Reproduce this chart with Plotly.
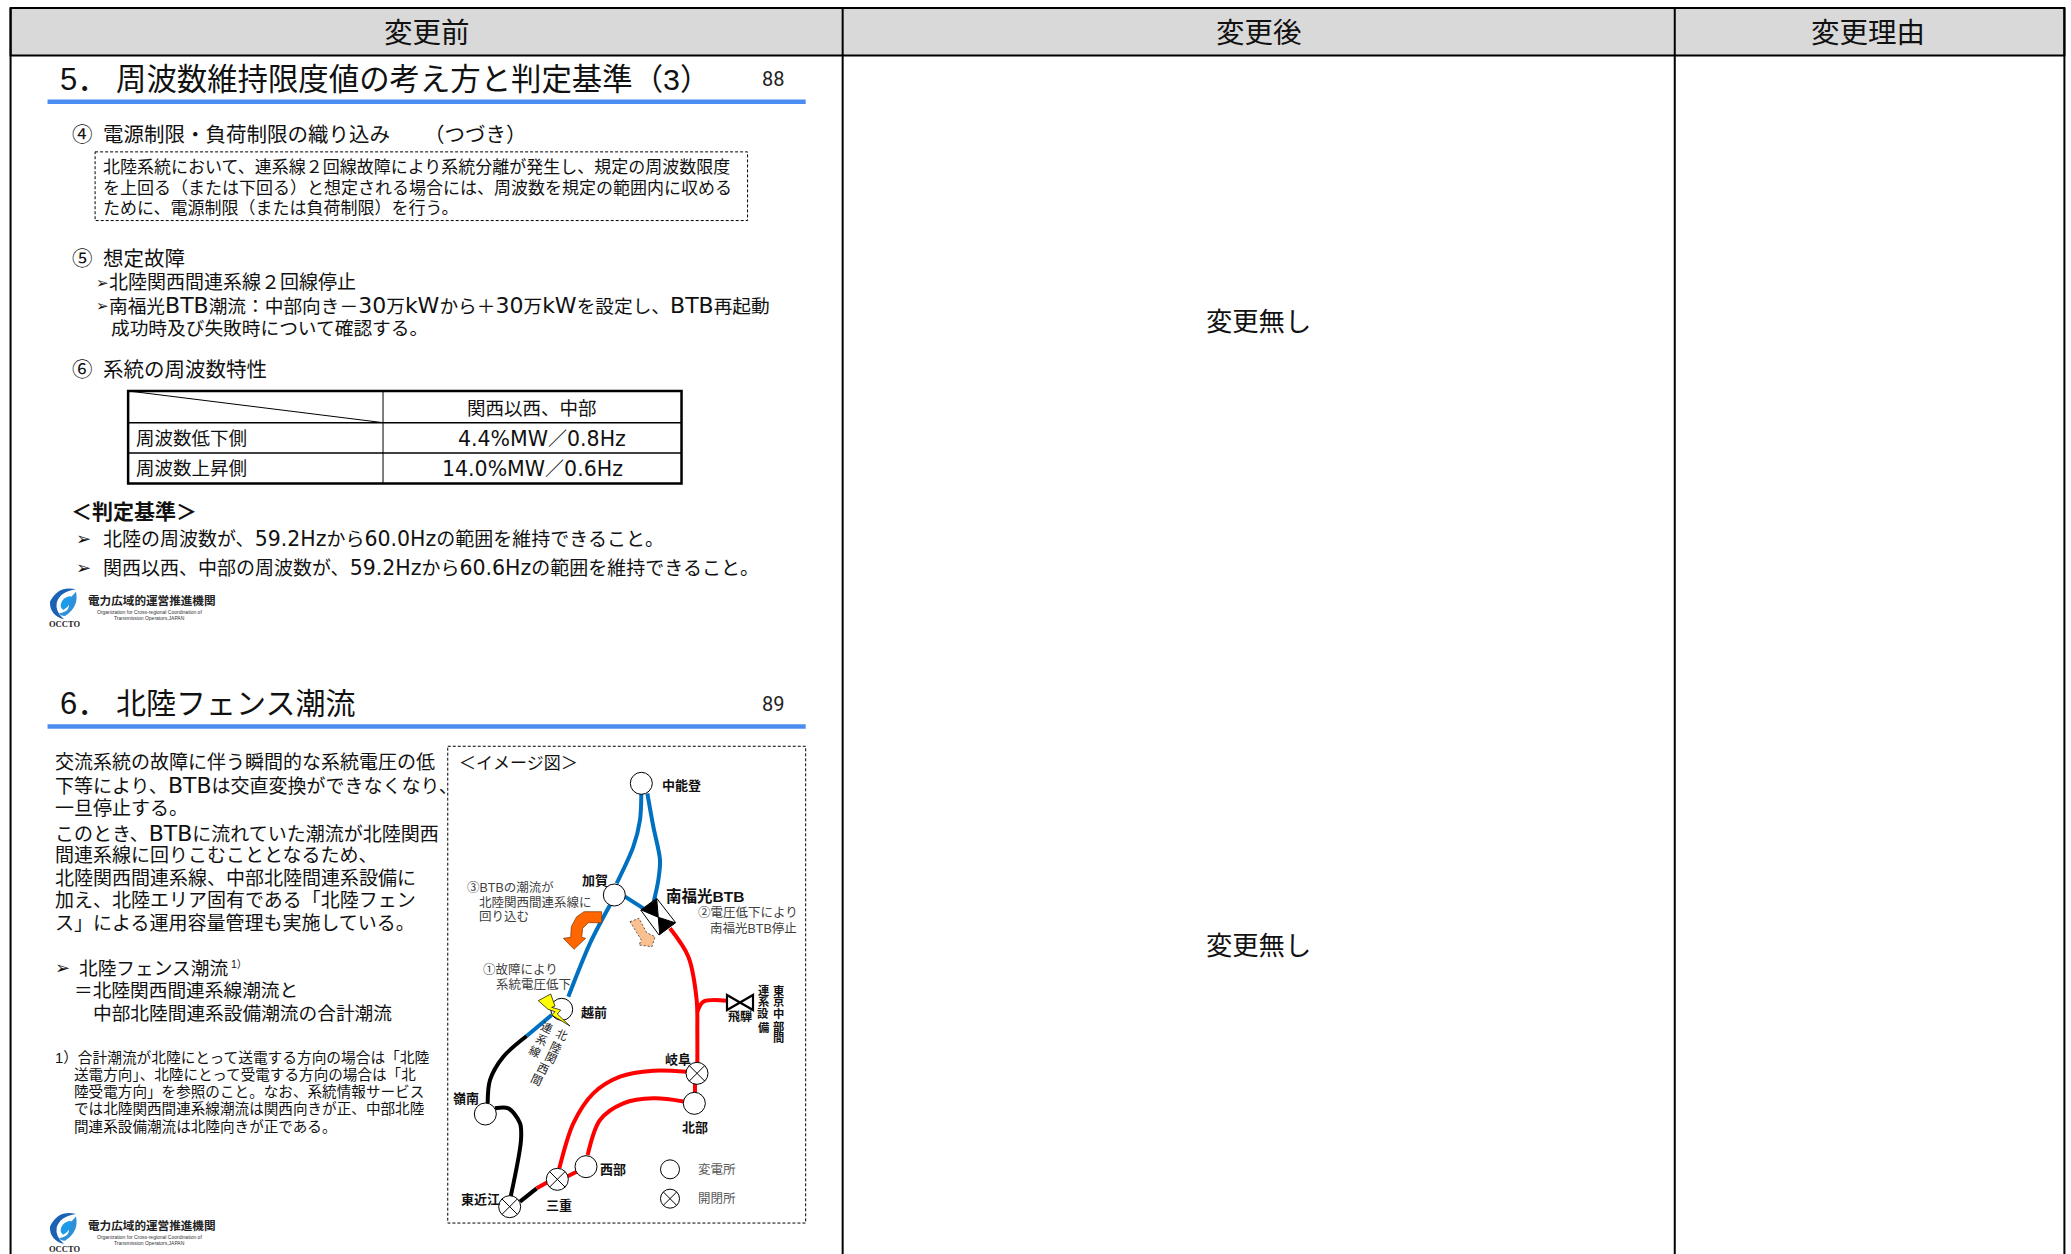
import plotly.graph_objects as go

W, H = 2071, 1254
K = 2071 / 1568
JP = "Liberation Sans, Noto Sans CJK JP, DejaVu Sans, sans-serif"
INK = "#111111"
GREY = "#404040"
BLUE = "#0070c0"
RED = "#ff0000"
BLACK = "#000000"


def z4(x, y):
    return (440 + x / 3, 740 + y / 3)


def z5(x, y):
    return (440 + x / 3, 1000 + y / 3)


def wide(text, size):
    """Latin runs of the reference are set much wider than the Japanese."""
    return f'<span style="font-family:DejaVu Sans;font-size:{size}px">{text}</span>'


# ---- page text: x, y (in the reduced 1568 wide layout), text, size, anchor, bold
header_text = [
    (323, 25, "変更前", 28.5, "center", False),
    (953, 25, "変更後", 28.5, "center", False),
    (1414, 25, "変更理由", 28.5, "center", False),
    (953, 244, "変更無し", 26.3, "center", False),
    (953, 716, "変更無し", 26.3, "center", False),
]
slide1_text = [
    (45, 60, "5．", 31, "left", False),
    (87, 60, "周波数維持限度値の考え方と判定基準（3）", 30.4, "left", False),
    (54, 102, "④", 20.5, "left", False),
    (77, 102, "電源制限・負荷制限の織り込み", 20.5, "left", False),
    (320, 102, "（つづき）", 20.5, "left", False),
    (77.5, 127, "北陸系統において、連系線２回線故障により系統分離が発生し、規定の周波数限度", 17, "left", False),
    (77.5, 143, "を上回る（または下回る）と想定される場合には、周波数を規定の範囲内に収める", 17, "left", False),
    (77.5, 158, "ために、電源制限（または負荷制限）を行う。", 17, "left", False),
    (54, 196, "⑤", 20.5, "left", False),
    (77, 196, "想定故障", 20.5, "left", False),
    (72, 214, "➢", 15, "left", False),
    (82, 214, "北陸関西間連系線２回線停止", 19, "left", False),
    (72, 231, "➢", 15, "left", False),
    (82, 231, "南福光" + wide("BTB", 22) + "潮流：中部向き－" + wide("30", 22) + "万" + wide("kW", 22) + "から＋" + wide("30", 22)
     + "万" + wide("kW", 22) + "を設定し、" + wide("BTB", 22) + "再起動", 18.7, "left", False),
    (83, 249, "成功時及び失敗時について確認する。", 18.7, "left", False),
    (54, 280, "⑥", 20.5, "left", False),
    (77, 280, "系統の周波数特性", 20.5, "left", False),
    (403, 309, "関西以西、中部", 18.5, "center", False),
    (102, 332, "周波数低下側", 18.5, "left", False),
    (410, 332, wide("4.4%MW", 20.5) + "／" + wide("0.8Hz", 20.5), 19, "center", False),
    (102, 355, "周波数上昇側", 18.5, "left", False),
    (403, 355, wide("14.0%MW", 20.5) + "／" + wide("0.6Hz", 20.5), 19, "center", False),
    (53, 387, "＜判定基準＞", 21, "left", True),
    (57, 408, "➢", 18, "left", False),
    (77, 408, "北陸の周波数が、" + wide("59.2Hz", 20.5) + "から" + wide("60.0Hz", 20.5) + "の範囲を維持できること。", 19, "left", False),
    (57, 430, "➢", 18, "left", False),
    (77, 430, "関西以西、中部の周波数が、" + wide("59.2Hz", 20.5) + "から" + wide("60.6Hz", 20.5) + "の範囲を維持できること。", 19, "left", False),
]
slide2_text = [
    (45, 533, "6．", 31, "left", False),
    (87, 533, "北陸フェンス潮流", 30, "left", False),
    (41, 577, "交流系統の故障に伴う瞬間的な系統電圧の低", 19, "left", False),
    (41, 595, "下等により、" + wide("BTB", 22) + "は交直変換ができなくなり、", 19, "left", False),
    (41, 612, "一旦停止する。", 19, "left", False),
    (41, 631, "このとき、" + wide("BTB", 22) + "に流れていた潮流が北陸関西", 19, "left", False),
    (41, 648, "間連系線に回りこむこととなるため、", 19, "left", False),
    (41, 665, "北陸関西間連系線、中部北陸間連系設備に", 19, "left", False),
    (41, 682, "加え、北陸エリア固有である「北陸フェン", 19, "left", False),
    (41, 699, "ス」による運用容量管理も実施している。", 19, "left", False),
    (41, 733, "➢", 18, "left", False),
    (59, 733, "北陸フェンス潮流", 18.7, "left", False),
    (174, 730, "1）", 10.5, "left", False),
    (55, 750, "＝北陸関西間連系線潮流と", 18.7, "left", False),
    (70, 767, "中部北陸間連系設備潮流の合計潮流", 18.7, "left", False),
    (41, 801, "1）合計潮流が北陸にとって送電する方向の場合は「北陸", 14.7, "left", False),
    (55, 814, "送電方向」、北陸にとって受電する方向の場合は「北", 14.6, "left", False),
    (55, 827, "陸受電方向」を参照のこと。なお、系統情報サービス", 14.6, "left", False),
    (55, 840, "では北陸関西間連系線潮流は関西向きが正、中部北陸", 14.6, "left", False),
    (55, 853, "間連系設備潮流は北陸向きが正である。", 14.6, "left", False),
    (347, 578, "＜イメージ図＞", 17, "left", False),
]
page_numbers = [(585, 60, "88"), (585, 533, "89")]

# ---- diagram labels: full pixel x, y, text, size, anchor, bold, colour
diagram_labels = [
    (660.7, 785, "中能登", 13, "left", True, INK),
    (595, 880, "加賀", 13, "center", True, INK),
    (665, 896, "南福光BTB", 15.5, "left", True, INK),
    (580, 1012.3, "越前", 13, "left", True, INK),
    (466, 1098.3, "嶺南", 13, "center", True, INK),
    (480.7, 1199, "東近江", 13, "center", True, INK),
    (559.3, 1205, "三重", 13, "center", True, INK),
    (599.3, 1169, "西部", 13, "left", True, INK),
    (678.3, 1059, "岐阜", 13, "center", True, INK),
    (695, 1127.7, "北部", 13, "center", True, INK),
    (740, 1016.7, "飛騨", 12, "center", True, INK),
    (697.3, 1169.3, "変電所", 12.5, "left", False, "#595959"),
    (697.3, 1199.3, "開閉所", 12.5, "left", False, "#595959"),
    (466, 887.7, "③BTBの潮流が", 12.5, "left", False, GREY),
    (478.3, 902.7, "北陸関西間連系線に", 12.5, "left", False, GREY),
    (478.3, 917.3, "回り込む", 12.5, "left", False, GREY),
    (696.7, 913.3, "②電圧低下により", 12.5, "left", False, GREY),
    (709.3, 928.7, "南福光BTB停止", 12.5, "left", False, GREY),
    (482.3, 969.3, "①故障により", 12.5, "left", False, GREY),
    (495, 985, "系統電圧低下", 12.5, "left", False, GREY),
]
vertical_east = "東京中部間"
vertical_east_y = [990, 1001.7, 1013, 1026, 1038]
vertical_link = "連系設備"
vertical_link_y = [990, 1002, 1014, 1027]
slanted_kansai = "北陸関西間"
slanted_kansai_xy = [(561.7, 1035), (556, 1047.7), (550.7, 1058.3), (543.3, 1069.3), (536.7, 1080)]
slanted_link = "連系線"
slanted_link_xy = [(547.3, 1027.7), (541.7, 1040), (535, 1051.7)]

# ---- network
substations = [z4(604, 130), z4(523, 465), (561.7, 1009.3), z5(136, 342), z5(438, 500), z5(763, 310)]
switches = [z5(209, 620), z5(352, 538), z5(771, 220)]
legend_substation = z5(690, 508)
legend_switch = z5(690, 596)

lines_blue = [
    [z4(604, 160), z4(600, 240), z4(580, 320), z4(530, 430)],
    [z4(622, 160), z4(640, 260), z4(660, 360), z4(655, 420), z4(640, 490)],
    [z4(555, 470), z4(610, 505)],
    [z4(510, 495), z4(450, 610), z4(385, 770)],
    [z5(335, 45), z5(260, 108)],
]
lines_black = [
    [z5(260, 108), z5(190, 170), z5(150, 240), z5(143, 310)],
    [z5(165, 325), z5(205, 325), z5(240, 370), z5(243, 420), z5(212, 590)],
    [z5(240, 605), z5(290, 565)],
]
lines_red = [
    [z5(290, 565), z5(325, 545)],
    [z5(380, 530), z5(410, 515)],
    [z5(358, 505), z5(400, 370), z5(460, 280), z5(540, 230), z5(640, 212), z5(740, 215)],
    [z5(443, 465), z5(480, 360), z5(550, 310), z5(640, 295), z5(735, 305)],
    [z5(765, 250), z5(765, 280)],
    [z4(690, 565), z4(745, 650), z4(770, 780), z5(772, 100), z5(772, 190)],
    [z5(772, 35), z4(790, 785), z4(860, 782)],
]
btb_body = [z4(650, 475), z4(707, 548), z4(657, 585), z4(602, 510)]
btb_upper = [z4(604, 510), z4(650, 477), z4(655, 532)]
btb_lower = [z4(655, 532), z4(705, 548), z4(659, 583)]
arrow_orange = [z4(485, 515), z4(485, 548), z4(445, 548), z4(428, 565), z4(425, 592), z4(437, 595),
                z4(402, 628), z4(370, 595), z4(392, 592), z4(394, 560), z4(410, 530), z4(432, 515)]
arrow_peach = [z4(570, 545), z4(597, 535), z4(620, 578), z4(645, 590), z4(636, 620), z4(597, 615), z4(604, 600)]
bolt = [(538.3, 1000.7), (550.7, 994), (555, 1006), (551.7, 1007.3), (560.7, 1010), (557.3, 1014), (570, 1026),
        (551.7, 1015), (555, 1011.7), (548, 1009.3)]
bowtie = [(727, 995), (753, 1010), (753, 995), (727, 1010), (727, 995)]

# ---- page frame (reduced layout coordinates)
column_x = [8, 638, 1268, 1563]
header_y = [6, 42]
rule_y = [77, 550]
rule_x = [36, 610]
dash_box_1 = (72, 115, 566, 167)
dash_box_2 = (339, 565, 610, 926)
table_x = [97, 290, 516]
table_y = [296, 320, 343, 366]
logo_shift = [0, 624.7]
logo_ja = "電力広域的運営推進機関"
logo_en1 = "Organization for Cross-regional Coordination of"
logo_en2 = "Transmission Operators,JAPAN"
logo_mark = "OCCTO"
swirl_dark = "M 108,28 Q 55,15 30,65 Q 28,105 72,118 Q 45,95 50,68 Q 60,35 108,28 Z"
swirl_light = "M 108,35 Q 118,80 75,108 Q 60,108 58,100 Q 95,95 85,60 Z"
swirl_core = "M 68,60 Q 85,45 95,50 Q 95,75 70,90 Q 55,80 68,60 Z"

fig = go.Figure()


def poly(pts, fill, line="#000000", width=1, dash="solid"):
    d = "M " + " L ".join(f"{x:.1f},{y:.1f}" for x, y in pts) + " Z"
    fig.add_shape(type="path", path=d, fillcolor=fill, line=dict(color=line, width=width, dash=dash))


def seg(x0, y0, x1, y1, color="#000000", width=1, dash="solid"):
    fig.add_shape(type="line", x0=x0, y0=y0, x1=x1, y1=y1, line=dict(color=color, width=width, dash=dash))


def label(x, y, text, size, anchor="left", bold=False, color=INK, fam=JP, angle=0):
    fig.add_annotation(x=x, y=y, text=f"<b>{text}</b>" if bold else text, showarrow=False, xanchor=anchor,
                       yanchor="middle", borderpad=0, textangle=angle, font=dict(family=fam, size=size, color=color))


def swirl(path, dy):
    """Scale a swirl path from its crop coordinates to the page."""
    out = []
    nums = []
    for tok in path.replace(",", " ").split():
        if tok.isalpha():
            out.append(tok)
        else:
            nums.append(float(tok))
            if len(nums) == 2:
                out.append(f"{40 + nums[0] / 3:.1f},{580 + nums[1] / 3 + dy:.1f}")
                nums = []
    return " ".join(out)


# frame
fig.add_shape(type="rect", x0=column_x[0] * K, x1=column_x[3] * K, y0=header_y[0] * K, y1=header_y[1] * K,
              fillcolor="#d9d9d9", line=dict(color="#000000", width=2))
for cx in column_x:
    seg(cx * K, header_y[0] * K, cx * K, H, width=2)

for ry in rule_y:
    seg(rule_x[0] * K, ry * K, rule_x[1] * K, ry * K, color="#4a8cf0", width=4.5)

for b in (dash_box_1, dash_box_2):
    fig.add_shape(type="rect", x0=b[0] * K, y0=b[1] * K, x1=b[2] * K, y1=b[3] * K,
                  line=dict(color="#000000", width=1, dash="3px,2px"))

# table
fig.add_shape(type="rect", x0=table_x[0] * K, x1=table_x[2] * K, y0=table_y[0] * K, y1=table_y[3] * K,
              line=dict(color="#000000", width=2.5))
for ty in table_y[1:3]:
    seg(table_x[0] * K, ty * K, table_x[2] * K, ty * K, width=1.5)
seg(table_x[1] * K, table_y[0] * K, table_x[1] * K, table_y[3] * K, width=1)
seg(table_x[0] * K, table_y[0] * K, table_x[1] * K, table_y[1] * K, width=1)

# network lines
for group, col in ((lines_blue, BLUE), (lines_black, BLACK), (lines_red, RED)):
    for pts in group:
        fig.add_trace(go.Scatter(x=[p[0] for p in pts], y=[p[1] for p in pts], mode="lines", hoverinfo="skip",
                                 line=dict(color=col, width=4, shape="spline", smoothing=0.9)))

# symbols
poly(btb_body, "#ffffff", width=1)
poly(btb_upper, "#000000")
poly(btb_lower, "#000000")
poly(arrow_orange, "#ff6600", line="#7f3300", width=0.7)
poly(arrow_peach, "#fac090", line="#333333", width=0.8, dash="2px,2px")
poly(bowtie, "#ffffff", width=2.2)


def node(c, r=11, cross=False):
    fig.add_shape(type="circle", x0=c[0] - r, x1=c[0] + r, y0=c[1] - r, y1=c[1] + r,
                  fillcolor="#ffffff", line=dict(color="#000000", width=1))
    if cross:
        d = r * 0.707
        seg(c[0] - d, c[1] - d, c[0] + d, c[1] + d)
        seg(c[0] - d, c[1] + d, c[0] + d, c[1] - d)


for c in substations:
    node(c)
for c in switches:
    node(c, cross=True)
node(legend_substation, 9.5)
node(legend_switch, 9.5, cross=True)
poly(bolt, "#ffff00", width=0.7)

# logo
for dy in logo_shift:
    fig.add_shape(type="path", path=swirl(swirl_dark, dy), fillcolor="#1b62b5", line_width=0)
    fig.add_shape(type="path", path=swirl(swirl_light, dy), fillcolor="#2f8fd8", line_width=0)
    fig.add_shape(type="path", path=swirl(swirl_core, dy), fillcolor="#1c9be8", line_width=0)
    label(86.7, 600.7 + dy, logo_ja, 11.6, bold=True, color="#222222")
    label(149, 612 + dy, logo_en1, 5, "center", color="#333333", fam="Liberation Sans")
    label(149, 618 + dy, logo_en2, 5, "center", color="#333333", fam="Liberation Sans")
    label(64, 624 + dy, logo_mark, 8.5, "center", bold=True, color="#222222", fam="Liberation Serif")

# text
for x, y, t, s, a, b in header_text + slide1_text + slide2_text:
    label(x * K, y * K, t, s, a, b)
for x, y, t in page_numbers:
    label(x * K, y * K, t, 20, "center", color="#222222", fam="Roboto")
for x, y, t, s, a, b, c in diagram_labels:
    label(x, y, t, s, a, b, c)
for ch, cy in zip(vertical_east, vertical_east_y):
    label(778, cy, ch, 11.3, "center", True)
for ch, cy in zip(vertical_link, vertical_link_y):
    label(763, cy, ch, 11.3, "center", True)
for ch, (cx, cy) in zip(slanted_kansai, slanted_kansai_xy):
    label(cx, cy, ch, 11.5, "center", color="#222222", angle=25)
for ch, (cx, cy) in zip(slanted_link, slanted_link_xy):
    label(cx, cy, ch, 11.5, "center", color="#222222", angle=25)

fig.update_layout(width=W, height=H, margin=dict(l=0, r=0, t=0, b=0), showlegend=False,
                  plot_bgcolor="#ffffff", paper_bgcolor="#ffffff",
                  xaxis=dict(range=[0, W], visible=False, fixedrange=True),
                  yaxis=dict(range=[H, 0], visible=False, fixedrange=True))
fig.write_html("out.html", config={"displayModeBar": False},
               post_script="document.body.style.margin='0';document.documentElement.style.overflow='hidden';")
